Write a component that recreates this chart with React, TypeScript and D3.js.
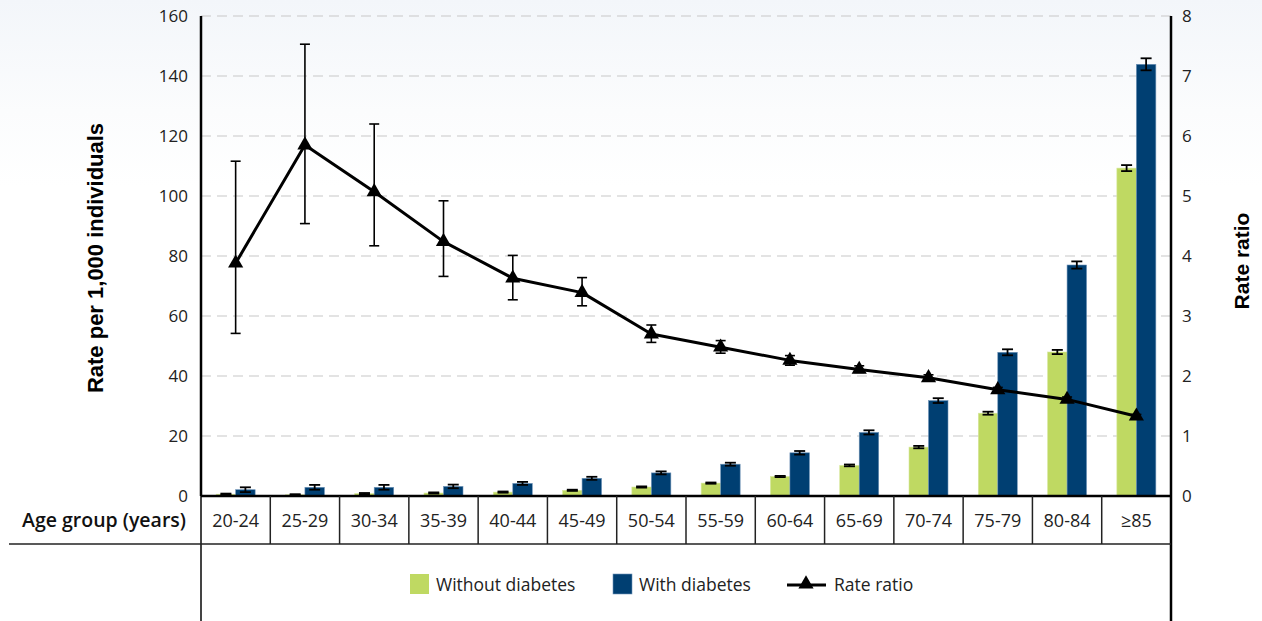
import React from "react";
import * as d3 from "d3";

const categories = ["20-24","25-29","30-34","35-39","40-44","45-49","50-54","55-59","60-64","65-69","70-74","75-79","80-84","≥85"];
const withoutDiabetes = [0.6, 0.4, 0.8, 1.0, 1.3, 1.9, 3.0, 4.3, 6.5, 10.2, 16.3, 27.6, 48.0, 109.3];
const withoutErr = [0.2, 0.2, 0.2, 0.2, 0.2, 0.2, 0.2, 0.2, 0.2, 0.3, 0.4, 0.5, 0.7, 1.0];
const withDiabetes = [2.1, 2.9, 2.9, 3.2, 4.2, 5.9, 7.7, 10.6, 14.4, 21.2, 31.8, 47.9, 77.0, 143.9];
const withErr = [0.8, 0.8, 0.8, 0.6, 0.5, 0.5, 0.5, 0.5, 0.6, 0.7, 0.8, 1.0, 1.2, 2.0];
const ratio = [3.88, 5.85, 5.07, 4.24, 3.63, 3.39, 2.70, 2.48, 2.26, 2.11, 1.97, 1.77, 1.61, 1.33];
const ratioLow = [2.71, 4.54, 4.17, 3.66, 3.27, 3.17, 2.56, 2.38, 2.18, 2.06, 1.92, 1.73, 1.58, 1.30];
const ratioHigh = [5.58, 7.53, 6.20, 4.92, 4.01, 3.64, 2.85, 2.59, 2.34, 2.17, 2.02, 1.81, 1.65, 1.36];
const leftTicks = [0, 20, 40, 60, 80, 100, 120, 140, 160];
const rightTicks = [0, 1, 2, 3, 4, 5, 6, 7, 8];

const W = 1262, H = 621;
const X0 = 201, X1 = 1171, Y0 = 496, Y1 = 16;
const GREEN = "#bfd962";
const BLUE = "#003f72";
const TICKFONT = "'Open Sans', Lato, sans-serif";
const TITLEFONT = "'Liberation Sans', Arial, sans-serif";

export default function App() {
  const x = d3.scaleBand<string>().domain(categories).range([X0, X1]).padding(0);
  const bw = 19.5;
  const yL = d3.scaleLinear().domain([0, 160]).range([Y0, Y1]);
  const yR = d3.scaleLinear().domain([0, 8]).range([Y0, Y1]);
  const cx = (c: string) => (x(c) as number) + x.bandwidth() / 2;
  const line = d3.line<number>().x((_, i) => cx(categories[i])).y((d) => yR(d));
  const tri = d3.symbol().type(d3.symbolTriangle).size(100)() as string;

  const errBar = (xc: number, yTop: number, yBot: number, cap: number, key: string, sw = 1.6) => (
    <g key={key} stroke="#000" strokeWidth={sw}>
      <line x1={xc} x2={xc} y1={yTop} y2={yBot} />
      <line x1={xc - cap} x2={xc + cap} y1={yTop} y2={yTop} />
      <line x1={xc - cap} x2={xc + cap} y1={yBot} y2={yBot} />
    </g>
  );

  return (
    <svg width={W} height={H} style={{ position: "absolute", left: 0, top: 0, display: "block" }}>
      <defs>
        <linearGradient id="bg" x1="0" y1="0" x2="0" y2="1">
          <stop offset="0" stopColor="#f3f6fa" />
          <stop offset="0.18" stopColor="#fbfcfd" />
          <stop offset="0.3" stopColor="#ffffff" />
          <stop offset="1" stopColor="#ffffff" />
        </linearGradient>
      </defs>
      <rect x={0} y={0} width={W} height={H} fill="url(#bg)" />

      {/* gridlines */}
      {leftTicks.filter((t) => t > 0).map((t) => (
        <line key={"g" + t} x1={X0} x2={X1} y1={yL(t)} y2={yL(t)} stroke="#c8c8c8" strokeWidth={1.2} strokeDasharray="10,6" />
      ))}

      {/* bars */}
      {categories.map((c, i) => {
        const xc = cx(c);
        return (
          <g key={"b" + c}>
            <rect x={xc - bw} y={yL(withoutDiabetes[i])} width={bw} height={Y0 - yL(withoutDiabetes[i])} fill={GREEN} stroke="#d8e8a0" strokeWidth={0.6} />
            <rect x={xc} y={yL(withDiabetes[i])} width={bw} height={Y0 - yL(withDiabetes[i])} fill={BLUE} stroke="#6f93b8" strokeWidth={0.6} />
          </g>
        );
      })}
      {categories.map((c, i) => {
        const xc = cx(c);
        return (
          <g key={"e" + c}>
            {errBar(xc - bw / 2, yL(withoutDiabetes[i] + withoutErr[i]), yL(withoutDiabetes[i] - withoutErr[i]), 5.5, "ew" + c, 1.8)}
            {errBar(xc + bw / 2, yL(withDiabetes[i] + withErr[i]), yL(withDiabetes[i] - withErr[i]), 5.5, "ed" + c, 1.8)}
          </g>
        );
      })}

      {/* rate ratio */}
      {categories.map((c, i) => errBar(cx(c), yR(ratioHigh[i]), yR(ratioLow[i]), 5, "r" + c, 1.6))}
      <path d={line(ratio) as string} fill="none" stroke="#000" strokeWidth={3} strokeLinejoin="round" />
      {categories.map((c, i) => (
        <path key={"m" + c} d={tri} transform={`translate(${cx(c)},${yR(ratio[i])})`} fill="#000" />
      ))}

      {/* axes */}
      <line x1={X0} x2={X0} y1={Y1} y2={Y0} stroke="#000" strokeWidth={2.5} />
      <line x1={X0} x2={X0} y1={Y0} y2={H} stroke="#444" strokeWidth={2} />
      <line x1={X1} x2={X1} y1={Y1} y2={H} stroke="#000" strokeWidth={2.5} />
      <line x1={X0} x2={X1} y1={Y0} y2={Y0} stroke="#000" strokeWidth={2.5} />

      {leftTicks.map((t) => (
        <text key={"lt" + t} x={188} y={yL(t)} dy="0.35em" textAnchor="end" fontFamily={TICKFONT} fontSize={17} fill="#222">{t}</text>
      ))}
      {rightTicks.map((t) => (
        <text key={"rt" + t} x={1182} y={yR(t)} dy="0.35em" textAnchor="start" fontFamily={TICKFONT} fontSize={17} fill="#222">{t}</text>
      ))}

      <text transform={`translate(103,258) rotate(-90)`} textAnchor="middle" fontFamily={TITLEFONT} fontWeight="bold" fontSize={22} fill="#000">Rate per 1,000 individuals</text>
      <text transform={`translate(1249,261) rotate(-90)`} textAnchor="middle" fontFamily={TITLEFONT} fontWeight="bold" fontSize={21} fill="#000">Rate ratio</text>

      {/* table */}
      <line x1={9} x2={X1} y1={544} y2={544} stroke="#222" strokeWidth={1.5} />
      {categories.slice(1).map((c) => (
        <line key={"v" + c} x1={x(c) as number} x2={x(c) as number} y1={Y0} y2={544} stroke="#222" strokeWidth={1.5} />
      ))}
      <text x={186} y={527} textAnchor="end" fontFamily={TICKFONT} fontWeight="600" fontSize={19.5} fill="#111">Age group (years)</text>
      {categories.map((c) => (
        <text key={"c" + c} x={cx(c)} y={527} textAnchor="middle" fontFamily={TICKFONT} fontSize={18} fill="#222">{c}</text>
      ))}

      {/* legend */}
      <rect x={410} y={574} width={19} height={20} fill={GREEN} />
      <text x={436} y={585} dy="0.35em" fontFamily={TICKFONT} fontSize={17.5} fill="#222">Without diabetes</text>
      <rect x={613} y={574} width={19} height={20} fill={BLUE} stroke="#6f93b8" strokeWidth={0.6} />
      <text x={639} y={585} dy="0.35em" fontFamily={TICKFONT} fontSize={17.5} fill="#222">With diabetes</text>
      <line x1={787} x2={826} y1={585} y2={585} stroke="#000" strokeWidth={3} />
      <path d={tri} transform="translate(806,584)" fill="#000" />
      <text x={834} y={585} dy="0.35em" fontFamily={TICKFONT} fontSize={17.5} fill="#222">Rate ratio</text>
    </svg>
  );
}
